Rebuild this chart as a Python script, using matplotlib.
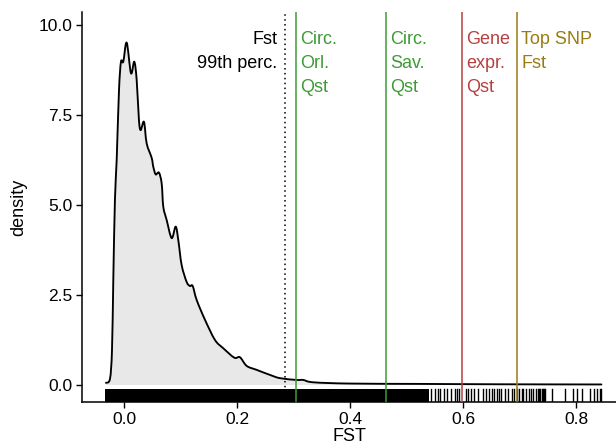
import numpy as np
import matplotlib
matplotlib.use("Agg")
import matplotlib.pyplot as plt
import matplotlib.transforms as mtransforms
from matplotlib.path import Path
from matplotlib.patches import PathPatch

# Kernel density of genome-wide FST (curve traced as x / density pairs)
fst_x = [-0.0319, -0.0248, -0.0212, -0.0189, -0.0160, -0.0129, -0.0088, -0.0053,
         -0.0012, 0.0048, 0.0124, 0.0182, 0.0225, 0.0265, 0.0296, 0.0354, 0.0402,
         0.0490, 0.0519, 0.0561, 0.0619, 0.0667, 0.0696, 0.0756, 0.0844, 0.0915,
         0.0961, 0.1021, 0.1110, 0.1168, 0.1216, 0.1287, 0.1434, 0.1611, 0.1758,
         0.1952, 0.2053, 0.2172, 0.2349, 0.2584, 0.2761, 0.3057, 0.3173, 0.3350,
         0.4000, 0.5240, 0.6650, 0.8450]
fst_density = [0.06, 0.17, 0.97, 2.92, 5.14, 6.25, 8.19, 8.98,
               8.98, 9.51, 8.66, 8.98, 8.47, 7.36, 7.08, 7.31, 6.71,
               6.31, 6.06, 5.85, 5.90, 5.60, 4.95, 4.58, 4.08, 4.40,
               4.03, 3.33, 2.86, 2.75, 2.75, 2.36, 1.81, 1.25, 1.02,
               0.76, 0.77, 0.53, 0.42, 0.28, 0.19, 0.14, 0.14, 0.075,
               0.04, 0.03, 0.02, 0.015]

# Rug: continuous block of SNPs at low FST, then individual high-FST SNPs
rug_block = (-0.034, 0.539)
rug_snps = [0.543, 0.550, 0.555, 0.559, 0.566, 0.572, 0.579, 0.585, 0.589, 0.593,
            0.605, 0.609, 0.614, 0.620, 0.627, 0.636, 0.641, 0.646, 0.651, 0.655,
            0.660, 0.664, 0.668, 0.674, 0.680, 0.686, 0.691, 0.695, 0.699, 0.704,
            0.707, 0.711, 0.716, 0.720, 0.724, 0.730, 0.733, 0.735, 0.737, 0.739,
            0.741, 0.743, 0.745, 0.757, 0.781, 0.795, 0.801, 0.810, 0.825, 0.831,
            0.837, 0.842, 0.845]

# Reference thresholds
fst_99th = 0.285
ref_values = [0.304, 0.4637, 0.5976, 0.695]
ref_labels = ["Circ.\nOrl.\nQst", "Circ.\nSav.\nQst", "Gene\nexpr.\nQst", "Top SNP\nFst"]
ref_colors = ["#3d9b35", "#3d9b35", "#b5403f", "#9a7b12"]

plt.rcParams["font.family"] = ["Liberation Sans", "DejaVu Sans"]


def smooth_path(xs, ys, close_to_zero=False):
    """Catmull-Rom curve through the points, expressed as cubic Bezier segments."""
    p = np.column_stack([xs, ys]).astype(float)
    n = len(p)
    verts = [p[0]]
    codes = [Path.MOVETO]
    for i in range(n - 1):
        p0 = p[i - 1] if i > 0 else p[i]
        p1, p2 = p[i], p[i + 1]
        p3 = p[i + 2] if i + 2 < n else p[i + 1]
        c1 = p1 + (p2 - p0) / 6.0
        c2 = p2 - (p3 - p1) / 6.0
        verts += [c1, c2, p2]
        codes += [Path.CURVE4] * 3
    if close_to_zero:
        verts += [(p[-1, 0], 0.0), (p[0, 0], 0.0), p[0]]
        codes += [Path.LINETO, Path.LINETO, Path.CLOSEPOLY]
    return Path(verts, codes)


fig = plt.figure(figsize=(6.16, 4.48), dpi=100)
ax = fig.add_axes([0.1331, 0.1027, 0.8669, 0.8705])

ax.add_patch(PathPatch(smooth_path(fst_x, fst_density, close_to_zero=True),
                       facecolor="#e8e8e8", edgecolor="none", zorder=1))
ax.add_patch(PathPatch(smooth_path(fst_x, fst_density), facecolor="none",
                       edgecolor="black", lw=1.35, zorder=3, capstyle="round",
                       joinstyle="round"))

# rug along the bottom of the panel
trans = mtransforms.blended_transform_factory(ax.transData, ax.transAxes)
ax.fill_between(list(rug_block), 0, 0.033, transform=trans, color="black", lw=0, zorder=2)
for v in rug_snps:
    ax.plot([v, v], [0, 0.033], transform=trans, color="black", lw=1.0, zorder=2)

ax.axvline(fst_99th, color="black", lw=1.1, ls=(0, (1, 2.2)), zorder=4)
ax.text(fst_99th - 0.014, 0.951, "Fst\n99th perc.", transform=trans, ha="right",
        va="top", fontsize=13, color="black", linespacing=1.55)
for v, lab, c in zip(ref_values, ref_labels, ref_colors):
    ax.axvline(v, color=c, lw=1.1, zorder=4)
    ax.text(v + 0.008, 0.951, lab, transform=trans, ha="left", va="top",
            fontsize=13, color=c, linespacing=1.55)

ax.set_xlim(-0.0743, 0.8708)
ax.set_ylim(-0.472, 10.361)
ax.set_xticks([0.0, 0.2, 0.4, 0.6, 0.8])
ax.set_yticks([0.0, 2.5, 5.0, 7.5, 10.0])
ax.set_xticklabels(["0.0", "0.2", "0.4", "0.6", "0.8"])
ax.set_yticklabels(["0.0", "2.5", "5.0", "7.5", "10.0"])
ax.tick_params(axis="both", labelsize=12.5, length=4, width=1, direction="out",
               colors="black", pad=3)
for s in ["top", "right"]:
    ax.spines[s].set_visible(False)
for s in ["left", "bottom"]:
    ax.spines[s].set_linewidth(1.1)

ax.set_xlabel("FST", fontsize=13, labelpad=1)
ax.set_ylabel("density", fontsize=13, labelpad=8)

fig.savefig("out.png", dpi=100)
